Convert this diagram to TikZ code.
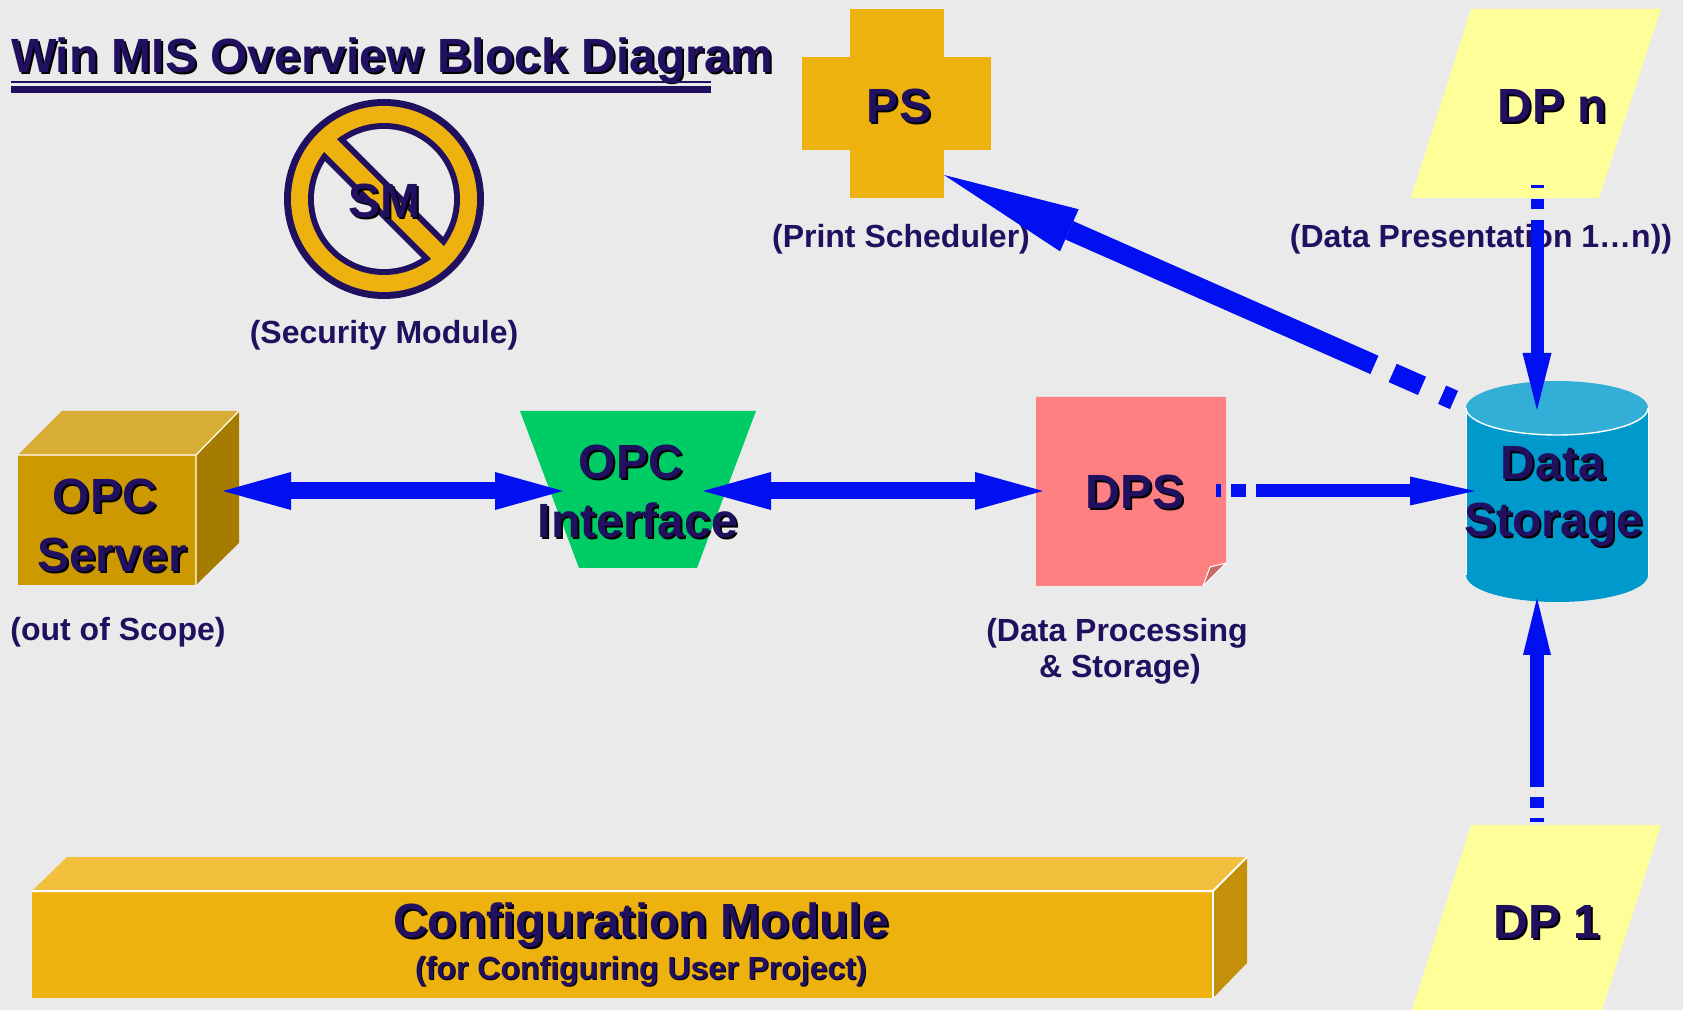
\documentclass[tikz,border=0pt]{standalone}
\usepackage{fontspec}
\setmainfont{Liberation Sans}
\usetikzlibrary{arrows.meta,calc}
\definecolor{bg}{HTML}{EAEAEA}
\definecolor{txt}{HTML}{21105F}
\definecolor{arr}{RGB}{0,16,240}
\definecolor{gold}{HTML}{EEB20E}
\definecolor{goldtop}{HTML}{F2C03D}
\definecolor{goldside}{HTML}{C4900A}
\definecolor{srvfront}{HTML}{CC9900}
\definecolor{srvtop}{HTML}{D8AD36}
\definecolor{srvside}{HTML}{A67C00}
\definecolor{dpyel}{HTML}{FFFF99}
\definecolor{oifgreen}{HTML}{00CC66}
\definecolor{dpspink}{HTML}{FF8080}
\definecolor{dpsfold}{HTML}{C86A6A}
\definecolor{cyltop}{HTML}{33AED6}
\definecolor{cylbody}{HTML}{0099CC}
\newcommand\bigfnt{\bfseries\fontsize{24pt}{29pt}\selectfont}
\newcommand\smallfnt{\bfseries\fontsize{16pt}{19pt}\selectfont}
\tikzset{
  lbl/.style={inner sep=0pt, outer sep=0pt, anchor=base, text=txt},
  big/.style={lbl, font=\bigfnt},
  small/.style={lbl, font=\smallfnt},
  bnd/.style={inner sep=0pt, outer sep=0pt, draw=none},
  conn/.style={draw=arr, line cap=butt},
}
% style, name, x, y, shadow offset, text
\newcommand\shadlbl[6]{%
  \node[#1, text=black] (#2-shadow) at (#3+#5,#4+#5) {#6};
  \node[#1] (#2) at (#3,#4) {#6};
}
\begin{document}
\begin{tikzpicture}[x=0.5pt,y=-0.5pt]
\useasboundingbox (0,0) rectangle (1683,1010);
\fill[bg] (0,0) rectangle (1683,1010);

% ---------- title ----------
\shadlbl{big,anchor=base west}{title}{11}{73}{2}{Win MIS Overview Block Diagram}
\fill[txt] (11,81) rectangle (711,83);
\fill[txt] (11,86) rectangle (711,93);

% ---------- security module ----------
\fill[txt] (384,199) circle[radius=50pt];
\fill[gold] (384,199) circle[radius=46.5pt];
\fill[txt] (384,199) circle[radius=38pt];
\fill[bg] (384,199) circle[radius=35pt];
\begin{scope}
  \clip (384,199) circle[radius=38pt];
  \fill[txt] (465.32,259.1) -- (444.1,280.32) -- (302.68,138.9) -- (323.9,117.68) -- cycle;
\end{scope}
\begin{scope}
  \clip (384,199) circle[radius=45pt];
  \fill[gold] (461.07,263.35) -- (448.35,276.07) -- (306.93,134.65) -- (319.65,121.93) -- cycle;
\end{scope}
\shadlbl{big}{sm}{384}{218}{2}{SM}
\node[small] (smL) at (384,344) {(Security Module)};

% ---------- print scheduler ----------
\fill[gold] (802,57) rectangle (991,150);
\node[bnd, fill=gold, minimum width=47pt, minimum height=94.5pt] (ps) at (897,103.5) {};
\shadlbl{big}{psT}{899}{123}{2}{PS}
\node[small] (psL) at (901,248) {(Print Scheduler)};

% ---------- DP n ----------
\fill[dpyel] (1471,9) -- (1661,9) -- (1599,198) -- (1411,198) -- cycle;
\node[bnd, minimum width=125pt, minimum height=94.5pt] (dpn) at (1536,103.5) {};
\shadlbl{big}{dpnT}{1552}{123}{2}{DP n}
\node[small] (dpnL) at (1481,248) {(Data Presentation 1…n))};

% ---------- DP 1 ----------
\fill[dpyel] (1471,825) -- (1661,825) -- (1602,1010) -- (1412,1010) -- cycle;
\node[bnd, minimum width=125pt, minimum height=92.5pt] (dp1) at (1536,917.5) {};
\shadlbl{big}{dp1T}{1547}{938}{2}{DP 1}

% ---------- configuration module ----------
\fill[goldtop] (32,891) -- (67,857) -- (1247,857) -- (1213,891) -- cycle;
\fill[goldside] (1213,891) -- (1247,857) -- (1247,963) -- (1213,998) -- cycle;
\node[bnd, fill=gold, minimum width=590.5pt, minimum height=53.5pt] (cfg) at (622.5,944.5) {};
\draw[white, line width=1pt] (32,891) -- (1213,891) -- (1247,857);
\draw[white, line width=0.6pt] (1213,891) -- (1213,998);
\shadlbl{big}{cfgT1}{641}{937}{2}{Configuration Module}
\shadlbl{small}{cfgT2}{641}{979}{1}{(for Configuring User Project)}

% ---------- OPC server ----------
\fill[srvtop] (18,455) -- (62,411) -- (239,411) -- (196,455) -- cycle;
\fill[srvside] (196,455) -- (239,411) -- (239,543) -- (196,585) -- cycle;
\node[bnd, fill=srvfront, minimum width=89pt, minimum height=65pt] (srv) at (107,520) {};
\draw[white, line width=0.6pt] (18,455) -- (196,455) -- (239,411) (196,455) -- (196,585);
\shadlbl{big}{srvT1}{105}{513}{2}{OPC}
\shadlbl{big}{srvT2}{112}{572}{2}{Server}
\node[small] (srvL) at (118,641) {(out of Scope)};

% ---------- OPC interface ----------
\fill[oifgreen] (520,411) -- (756,411) -- (697,568) -- (579,568) -- cycle;
\node[bnd, minimum width=118pt, minimum height=78.5pt] (oif) at (638,489.5) {};
\shadlbl{big}{oifT1}{631}{479}{2}{OPC}
\shadlbl{big}{oifT2}{638}{538}{2}{Interface}

% ---------- DPS ----------
\fill[dpspink] (1036,397) -- (1226,397) -- (1226,563) -- (1203,586) -- (1036,586) -- cycle;
\filldraw[fill=dpsfold, draw=white, line width=0.5pt] (1203,586) -- (1210,567) -- (1226,563) -- cycle;
\node[bnd, minimum width=95pt, minimum height=94.5pt] (dps) at (1131,491.5) {};
\shadlbl{big}{dpsT}{1135}{509}{2}{DPS}
\node[small] (dpsL1) at (1117,642) {(Data Processing};
\node[small] (dpsL2) at (1120,678) {\& Storage)};

% ---------- data storage ----------
\fill[cylbody] (1466,408) -- (1466,575)
  arc[start angle=180, end angle=360, x radius=45.5pt, y radius=13.5pt] -- (1648,408) -- cycle;
\fill[cyltop] (1557,408) ellipse[x radius=45.5pt, y radius=13.5pt];
\draw[white, line width=0.7pt] (1466,408) arc[start angle=180, end angle=360, x radius=45.5pt, y radius=13.5pt];
\draw[white, line width=0.4pt] (1466,408) -- (1466,575) (1648,408) -- (1648,575);
\node[bnd, minimum width=91pt, minimum height=110.5pt] (ds) at (1557,491.5) {};
\shadlbl{big}{dsT1}{1553}{480}{2}{Data}
\shadlbl{big}{dsT2}{1554}{537}{2}{Storage}

% ---------- connectors ----------
\draw[conn, line width=8.5pt,
  {Triangle[length=34pt,width=19pt,line width=0pt]}-{Triangle[length=34pt,width=19pt,line width=0pt]}]
  ($(srv.east)+(27,-29)$) -- ($(oif.west)+(43,1.5)$);
\draw[conn, line width=8.5pt,
  {Triangle[length=34pt,width=19pt,line width=0pt]}-{Triangle[length=34pt,width=19pt,line width=0pt]}]
  ($(oif.east)+(-53,1.5)$) -- ($(dps.west)+(7,-0.5)$);
\draw[conn, line width=6.5pt, -{Triangle[length=32.5pt,width=14.5pt,line width=0pt]},
  dash pattern=on 2.5pt off 5pt on 7.5pt off 5pt on 400pt off 0pt]
  ($(dps.east)+(-10,-0.5)$) -- ($(ds.west)+(9,-0.5)$);
\draw[conn, line width=6.5pt, -{Triangle[length=28.5pt,width=14.5pt,line width=0pt]},
  dash pattern=on 1.5pt off 5.5pt on 5pt off 5.5pt on 400pt off 0pt]
  ($(dpn.south)+(1,-13)$) -- ($(ds.north)+(-20,29)$);
\draw[conn, line width=7pt, -{Triangle[length=28.5pt,width=14pt,line width=0pt]},
  dash pattern=on 2pt off 5pt on 5.5pt off 5pt on 400pt off 0pt]
  ($(dp1.north)+(1,-3)$) -- ($(ds.south)+(-20,-4)$);
\draw[conn, line width=10pt, -{Triangle[length=68.5pt,width=23pt,line width=0pt]},
  dash pattern=on 6.5pt off 11pt on 16pt off 10pt on 600pt off 0pt]
  ($(ds.north west)+(-12,19)$) -- ($(ps.south east)+(0,-23)$);
\end{tikzpicture}
\end{document}
